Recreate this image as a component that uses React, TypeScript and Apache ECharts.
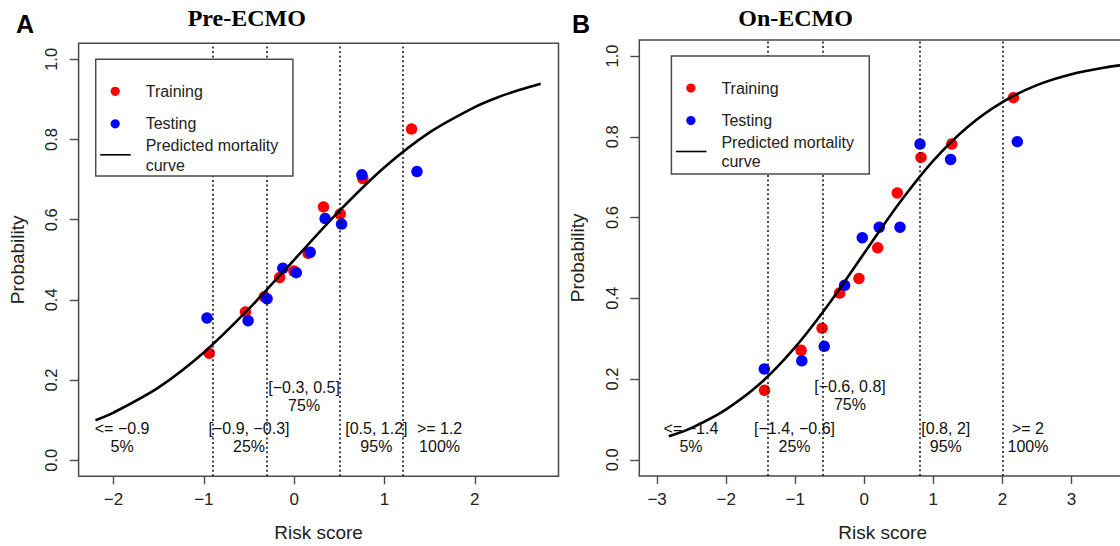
import React, { useEffect, useRef } from "react";
import * as echarts from "echarts";

// ---------- Panel A (Pre-ECMO) ----------
const trainAX = [1.30, 0.76, 0.325, 0.51, 0.155, -0.003, -0.16, -0.33, -0.54, -0.94];
const trainAY = [0.826, 0.703, 0.632, 0.614, 0.516, 0.472, 0.456, 0.408, 0.370, 0.267];
const testAX = [1.36, 0.75, 0.343, 0.525, 0.178, 0.023, -0.125, -0.30, -0.51, -0.965];
const testAY = [0.72, 0.712, 0.603, 0.589, 0.519, 0.468, 0.479, 0.403, 0.348, 0.355];
const curveAX = [-2.2, -2.0, -1.5, -1.0, -0.5, 0, 0.5, 1.0, 1.5, 2.0, 2.25, 2.5, 2.73];
const curveAY = [0.100, 0.119, 0.182, 0.269, 0.378, 0.500, 0.622, 0.731, 0.818, 0.881, 0.905, 0.924, 0.939];
const cutsA = [-0.9, -0.3, 0.5, 1.2];
const groupLabelsA = ["<= −0.9\n5%", "[−0.9, −0.3]\n25%", "[−0.3, 0.5]\n75%", "[0.5, 1.2]\n95%", ">= 1.2\n100%"];
const groupLabelAX = [-1.905, -0.5, 0.11, 0.91, 1.61];
const groupLabelAY = [0.056, 0.056, 0.16, 0.056, 0.056];
const xTicksA = [-2, -1, 0, 1, 2];

// ---------- Panel B (On-ECMO) ----------
const trainBX = [2.16, 1.267, 0.821, 0.478, 0.194, -0.077, -0.357, -0.611, -0.915, -1.444];
const trainBY = [0.897, 0.782, 0.749, 0.661, 0.525, 0.449, 0.413, 0.326, 0.271, 0.172];
const testBX = [2.216, 1.25, 0.807, 0.517, 0.217, -0.029, -0.285, -0.58, -0.905, -1.448];
const testBY = [0.788, 0.744, 0.782, 0.576, 0.576, 0.550, 0.432, 0.281, 0.245, 0.225];
const curveBX = [-2.83, -2.5, -2.0, -1.5, -1.0, -0.5, 0, 0.5, 1.0, 1.5, 2.0, 2.5, 3.0, 3.5, 3.8];
const curveBY = [0.058, 0.079, 0.125, 0.190, 0.279, 0.389, 0.512, 0.634, 0.741, 0.825, 0.886, 0.928, 0.955, 0.972, 0.979];
const cutsB = [-1.4, -0.6, 0.8, 2];
const groupLabelsB = ["<= −1.4\n5%", "[−1.4, −0.6]\n25%", "[−0.6, 0.8]\n75%", "[0.8, 2]\n95%", ">= 2\n100%"];
const groupLabelBX = [-2.51, -1.01, -0.207, 1.18, 2.37];
const groupLabelBY = [0.056, 0.056, 0.159, 0.056, 0.056];
const xTicksB = [-3, -2, -1, 0, 1, 2, 3];

const yTicks = [0, 0.2, 0.4, 0.6, 0.8, 1.0];
const panelTitles = ["Pre-ECMO", "On-ECMO"];
const panelLetters = ["A", "B"];
const legendNames = ["Training", "Testing", "Predicted mortality\ncurve"];

const FONT = '"Liberation Sans", Arial, Helvetica, sans-serif';
const RED = "#ff0000";
const BLUE = "#0000ff";
const AXIS_COLOR = "#4a4a4a";
const TEXT_COLOR = "#222";

const zip = (xs: number[], ys: number[]) => xs.map((x, i) => [x, ys[i]]);
const fmtX = (v: number) => (v < 0 ? "−" + Math.abs(v) : String(v));

function makeX(gi: number, min: number, max: number, ticks: number[]) {
  return {
    type: "value",
    gridIndex: gi,
    min,
    max,
    position: "bottom",
    name: "Risk score",
    nameLocation: "middle",
    nameGap: 47,
    nameTextStyle: { fontSize: 19, color: TEXT_COLOR, fontFamily: FONT },
    axisLine: { show: false, onZero: false },
    axisTick: { show: true, customValues: ticks, length: 8, lineStyle: { color: AXIS_COLOR, width: 1.4 } },
    axisLabel: { customValues: ticks, margin: 15, fontSize: 17, color: TEXT_COLOR, fontFamily: FONT, formatter: fmtX },
    splitLine: { show: false },
  };
}

function makeY(gi: number) {
  return {
    type: "value",
    gridIndex: gi,
    min: -0.04,
    max: 1.04,
    position: "left",
    name: "Probability",
    nameLocation: "middle",
    nameGap: 52,
    nameRotate: 90,
    nameTextStyle: { fontSize: 19, color: TEXT_COLOR, fontFamily: FONT },
    axisLine: { show: false, onZero: false },
    axisTick: { show: true, customValues: yTicks, length: 9, lineStyle: { color: AXIS_COLOR, width: 1.4 } },
    axisLabel: {
      customValues: yTicks,
      rotate: 90,
      margin: 19,
      fontSize: 16.5,
      color: TEXT_COLOR,
      fontFamily: FONT,
      formatter: (v: number) => v.toFixed(1),
    },
    splitLine: { show: false },
  };
}

function panelSeries(
  gi: number,
  trX: number[], trY: number[], teX: number[], teY: number[],
  cX: number[], cY: number[], cuts: number[],
  labels: string[], lx: number[], ly: number[]
) {
  return [
    {
      type: "line",
      name: "cuts" + gi,
      xAxisIndex: gi,
      yAxisIndex: gi,
      data: [],
      z: 1,
      silent: true,
      markLine: {
        silent: true,
        symbol: ["none", "none"],
        label: { show: false },
        lineStyle: { color: "#1a1a1a", width: 1.6, type: [2, 2.6], opacity: 1 },
        emphasis: { disabled: true },
        data: cuts.map((c) => ({ xAxis: c })),
      },
    },
    {
      type: "scatter",
      name: "Training",
      xAxisIndex: gi,
      yAxisIndex: gi,
      data: zip(trX, trY),
      symbolSize: 11.5,
      itemStyle: { color: RED, opacity: 1 },
      z: 3,
    },
    {
      type: "scatter",
      name: "Testing",
      xAxisIndex: gi,
      yAxisIndex: gi,
      data: zip(teX, teY),
      symbolSize: 11.5,
      itemStyle: { color: BLUE, opacity: 1 },
      z: 4,
    },
    {
      type: "line",
      name: "Predicted mortality curve",
      xAxisIndex: gi,
      yAxisIndex: gi,
      data: zip(cX, cY),
      smooth: 0.3,
      symbol: "none",
      showSymbol: false,
      lineStyle: { color: "#000", width: 2.6 },
      z: 5,
    },
    {
      type: "scatter",
      name: "groups" + gi,
      xAxisIndex: gi,
      yAxisIndex: gi,
      symbolSize: 0,
      itemStyle: { color: "transparent" },
      silent: true,
      z: 6,
      data: labels.map((t, i) => ({ name: t, value: [lx[i], ly[i]] })),
      label: {
        show: true,
        position: "inside",
        formatter: "{b}",
        fontSize: 16,
        lineHeight: 18,
        color: "#111",
        opacity: 1,
        fontFamily: FONT,
        align: "center",
        verticalAlign: "middle",
      },
    },
  ];
}

function legendGraphic(left: number, top: number, w: number, h: number) {
  const dotX = left + 19.5;
  const textX = left + 50;
  return {
    type: "group",
    z: 100,
    children: [
      { type: "rect", z: 100, shape: { x: left, y: top, width: w, height: h }, style: { fill: "#fff", stroke: AXIS_COLOR, lineWidth: 1.5 } },
      { type: "circle", z: 101, shape: { cx: dotX, cy: top + 32, r: 4.6 }, style: { fill: RED } },
      { type: "text", z: 101, x: textX, y: top + 32, style: { text: legendNames[0], fill: TEXT_COLOR, font: `16px ${FONT}`, align: "left", verticalAlign: "middle", textAlign: "left", textVerticalAlign: "middle" } },
      { type: "circle", z: 101, shape: { cx: dotX, cy: top + 64.5, r: 4.6 }, style: { fill: BLUE } },
      { type: "text", z: 101, x: textX, y: top + 64.5, style: { text: legendNames[1], fill: TEXT_COLOR, font: `16px ${FONT}`, align: "left", verticalAlign: "middle", textAlign: "left", textVerticalAlign: "middle" } },
      { type: "line", z: 101, shape: { x1: left + 4.5, y1: top + 95.5, x2: left + 35, y2: top + 95.5 }, style: { stroke: "#000", lineWidth: 1.6 } },
      { type: "text", z: 101, x: textX, y: top + 96, style: { text: legendNames[2], fill: TEXT_COLOR, font: `16px ${FONT}`, lineHeight: 19.5, align: "left", verticalAlign: "middle", textAlign: "left", textVerticalAlign: "middle" } },
    ],
  };
}

function titleText(text: string, x: number, y: number, font: string) {
  return {
    type: "text",
    z: 100,
    x,
    y,
    style: { text, fill: "#000", font, align: "center", verticalAlign: "middle", textAlign: "center", textVerticalAlign: "middle" },
  };
}

export default function App() {
  const ref = useRef<HTMLDivElement>(null);
  useEffect(() => {
    if (!ref.current) return;
    const chart = echarts.init(ref.current, undefined, { renderer: "svg" });
    const option: any = {
      animation: false,
      backgroundColor: "#fff",
      textStyle: { fontFamily: FONT },
      grid: [
        { left: 78.6, top: 43.3, width: 479.9, height: 433, show: true, borderColor: AXIS_COLOR, borderWidth: 1.5, backgroundColor: "transparent", containLabel: false, outerBoundsMode: "none" },
        { left: 639.3, top: 39.9, width: 486.7, height: 436, show: true, borderColor: AXIS_COLOR, borderWidth: 1.5, backgroundColor: "transparent", containLabel: false, outerBoundsMode: "none" },
      ],
      xAxis: [makeX(0, -2.387, 2.927, xTicksA), makeX(1, -3.258, 3.79, xTicksB)],
      yAxis: [makeY(0), makeY(1)],
      series: [
        ...panelSeries(0, trainAX, trainAY, testAX, testAY, curveAX, curveAY, cutsA, groupLabelsA, groupLabelAX, groupLabelAY),
        ...panelSeries(1, trainBX, trainBY, testBX, testBY, curveBX, curveBY, cutsB, groupLabelsB, groupLabelBX, groupLabelBY),
      ],
      graphic: [
        legendGraphic(95.7, 59.3, 197.2, 116.7),
        legendGraphic(671.4, 56, 197.9, 118),
        titleText(panelTitles[0], 246.8, 18.3, `bold 24px "Liberation Serif", "Times New Roman", serif`),
        titleText(panelTitles[1], 795.6, 17.8, `bold 24px "Liberation Serif", "Times New Roman", serif`),
        titleText(panelLetters[0], 25, 24, `bold 25px ${FONT}`),
        titleText(panelLetters[1], 581, 23.5, `bold 25px ${FONT}`),
      ],
    };
    chart.setOption(option);
    return () => chart.dispose();
  }, []);
  return (
    <div
      ref={ref}
      style={{ position: "absolute", left: 0, top: 0, width: 1120, height: 546, background: "#fff" }}
    />
  );
}
